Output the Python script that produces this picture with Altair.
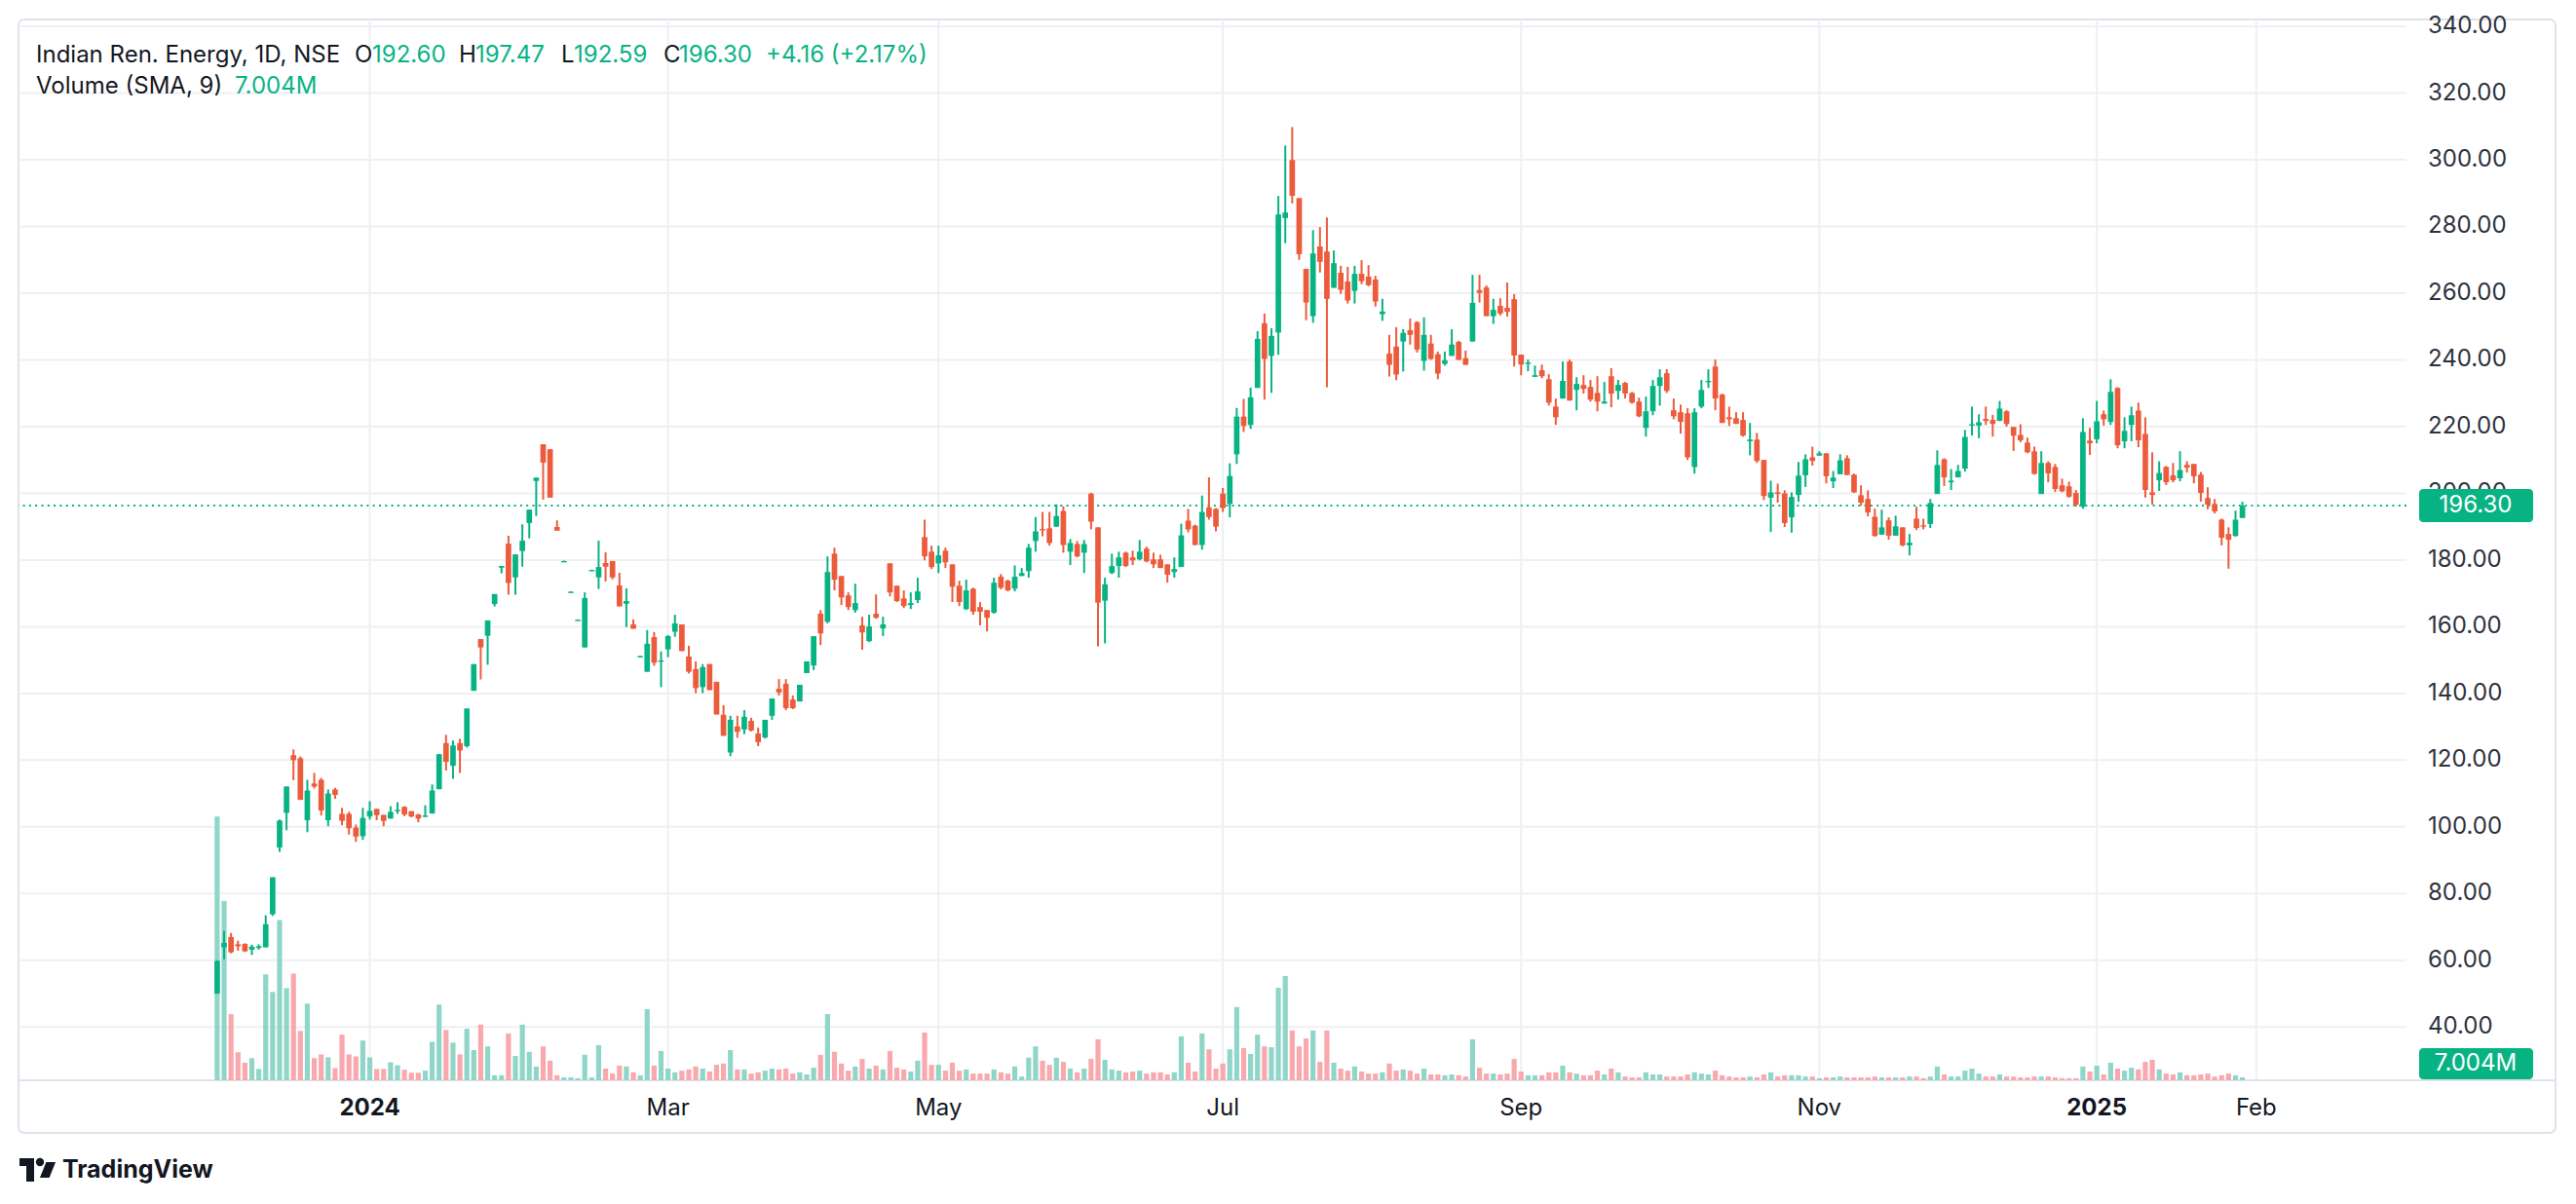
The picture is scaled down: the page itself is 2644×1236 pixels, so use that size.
import altair as alt
import numpy as np
import pandas as pd

# ---------------- data ----------------
OPEN = [
    50.0, 63.9, 67.0, 64.8, 64.9, 63.2, 63.7, 63.9, 73.8, 93.8,
    104.2, 121.5, 120.6, 102.0, 113.0, 114.1, 102.0, 111.2, 103.9, 103.9,
    99.8, 97.2, 103.1, 105.4, 103.6, 102.5, 104.8, 106.0, 104.7, 103.7,
    103.1, 104.0, 111.3, 125.1, 118.3, 125.1, 124.2, 140.8, 156.3, 157.3,
    166.8, 177.7, 184.9, 174.8, 182.7, 191.1, 203.7, 214.7, 213.2, 189.9,
    179.6, 170.4, 162.0, 153.8, 176.9, 174.8, 179.1, 179.7, 172.4, 166.9,
    160.7, 151.1, 146.5, 156.9, 149.5, 153.2, 158.5, 160.7, 151.1, 147.3,
    141.9, 148.8, 143.5, 133.6, 122.3, 130.1, 129.2, 131.8, 128.0, 126.8,
    133.3, 141.4, 142.9, 138.2, 137.6, 146.1, 148.4, 163.9, 161.5, 181.9,
    175.2, 169.4, 165.0, 160.4, 155.7, 163.9, 159.5, 179.0, 172.3, 168.5,
    166.5, 168.0, 186.9, 182.5, 179.0, 182.8, 178.7, 172.3, 165.3, 171.4,
    165.9, 165.0, 164.2, 175.0, 173.8, 171.4, 175.2, 176.7, 185.7, 189.3,
    189.5, 190.0, 194.7, 182.5, 184.8, 182.2, 199.9, 189.8, 167.8, 176.1,
    178.2, 182.2, 180.8, 180.2, 183.4, 180.2, 180.2, 178.7, 176.4, 177.9,
    191.8, 190.3, 184.5, 195.8, 195.3, 199.9, 196.8, 211.7, 223.0, 220.5,
    231.6, 251.0, 241.2, 248.2, 282.5, 299.9, 288.5, 267.3, 253.1, 274.0,
    272.5, 261.6, 266.1, 263.5, 260.7, 265.8, 265.0, 264.1, 253.7, 241.9,
    244.0, 245.5, 248.9, 251.3, 239.7, 244.9, 241.7, 238.8, 241.2, 245.4,
    240.5, 245.5, 260.9, 261.7, 253.1, 256.2, 255.6, 258.2, 241.6, 238.9,
    234.9, 236.9, 234.2, 226.0, 228.4, 239.5, 231.0, 232.5, 231.9, 230.1,
    226.9, 235.1, 230.7, 233.1, 230.1, 227.5, 219.6, 224.6, 232.2, 236.0,
    224.9, 224.3, 224.0, 207.9, 226.0, 233.4, 238.0, 229.6, 222.8, 222.5,
    222.0, 215.6, 216.1, 210.0, 198.7, 200.3, 200.0, 192.8, 199.5, 205.4,
    210.8, 211.3, 212.0, 203.6, 205.7, 210.5, 205.6, 199.4, 198.3, 193.0,
    187.6, 191.9, 187.3, 189.8, 184.4, 192.4, 190.4, 190.8, 199.8, 210.2,
    203.3, 204.8, 207.4, 220.3, 220.3, 222.3, 222.0, 221.7, 224.6, 219.9,
    217.5, 215.2, 212.6, 199.8, 209.1, 207.9, 202.4, 202.1, 200.1, 196.0,
    215.8, 216.2, 223.7, 221.4, 231.6, 215.6, 220.5, 224.8, 217.8, 200.3,
    203.9, 207.9, 205.4, 204.5, 208.5, 208.8, 205.6, 198.6, 196.8, 192.1,
    187.8, 187.2, 192.60,
]
HIGH = [
    60.0, 68.8, 68.2, 65.9, 65.1, 64.7, 64.8, 73.5, 84.9, 102.2,
    112.1, 123.2, 121.1, 114.1, 116.2, 114.7, 111.2, 111.7, 105.7, 104.5,
    100.7, 105.7, 107.7, 105.4, 103.6, 106.2, 107.4, 106.2, 104.7, 103.9,
    106.5, 112.7, 121.8, 127.6, 125.9, 126.4, 135.5, 148.8, 156.3, 161.9,
    169.8, 178.2, 187.3, 181.7, 190.7, 195.1, 204.7, 214.7, 213.2, 191.9,
    179.8, 170.6, 162.2, 170.3, 177.1, 185.8, 182.3, 179.7, 176.2, 171.5,
    162.2, 151.3, 159.0, 158.4, 152.6, 157.5, 163.6, 160.7, 154.3, 149.6,
    148.8, 148.8, 143.5, 136.5, 133.3, 133.3, 135.0, 132.7, 129.8, 132.1,
    138.5, 144.3, 144.3, 139.4, 142.6, 149.6, 157.2, 165.0, 181.1, 183.7,
    175.2, 170.3, 172.9, 163.0, 163.6, 169.7, 163.0, 179.0, 172.3, 170.9,
    170.3, 174.7, 192.1, 184.3, 184.3, 183.7, 178.7, 173.8, 174.1, 171.7,
    167.4, 165.0, 174.7, 175.8, 174.1, 178.4, 177.6, 184.8, 192.9, 194.4,
    194.4, 196.7, 196.1, 186.3, 185.7, 186.0, 200.2, 189.8, 174.7, 181.9,
    182.5, 182.5, 182.8, 186.0, 184.0, 182.2, 181.6, 178.7, 180.8, 190.9,
    195.3, 190.6, 199.3, 204.8, 195.6, 201.6, 209.0, 225.6, 228.3, 231.7,
    248.6, 253.9, 249.5, 289.1, 304.3, 309.8, 288.5, 267.3, 278.9, 279.8,
    282.7, 272.8, 268.2, 267.9, 268.2, 269.9, 268.4, 265.2, 258.3, 247.5,
    249.8, 249.2, 252.4, 251.6, 252.7, 247.5, 242.5, 242.5, 249.2, 245.7,
    242.8, 265.5, 265.5, 262.3, 258.3, 258.5, 263.2, 259.7, 241.6, 240.1,
    238.3, 238.6, 235.7, 228.4, 239.5, 240.1, 234.8, 235.4, 234.0, 235.1,
    233.4, 237.5, 234.0, 233.4, 230.4, 228.7, 229.0, 234.0, 237.2, 237.2,
    228.4, 226.6, 225.5, 225.5, 234.0, 237.2, 240.1, 229.9, 226.0, 224.3,
    224.3, 221.1, 218.1, 210.0, 203.8, 202.9, 200.9, 200.3, 209.4, 211.7,
    214.0, 212.6, 212.0, 206.7, 211.7, 211.4, 205.9, 202.4, 200.9, 195.4,
    195.1, 192.8, 193.3, 189.8, 187.8, 196.0, 192.4, 198.3, 212.9, 210.5,
    207.3, 208.5, 219.0, 226.0, 223.7, 226.0, 223.5, 227.7, 224.9, 219.9,
    220.7, 216.7, 214.0, 212.6, 209.6, 208.8, 204.4, 203.5, 201.0, 222.5,
    219.6, 227.7, 224.8, 234.2, 231.8, 222.8, 226.0, 227.2, 222.8, 212.3,
    209.6, 208.2, 209.1, 212.6, 209.6, 208.8, 206.4, 201.8, 198.3, 192.4,
    189.8, 194.8, 197.47,
]
LOW = [
    50.0, 60.3, 62.1, 62.9, 62.5, 61.6, 63.2, 63.9, 73.3, 92.5,
    99.0, 114.0, 108.1, 98.4, 111.5, 103.4, 100.2, 108.4, 100.5, 97.7,
    95.5, 96.1, 102.2, 102.0, 100.2, 102.5, 103.9, 103.2, 102.9, 101.4,
    102.9, 104.0, 111.3, 116.9, 114.4, 116.2, 123.8, 140.8, 144.2, 148.6,
    166.1, 176.0, 169.6, 169.6, 178.0, 186.5, 193.2, 198.1, 198.7, 188.8,
    179.5, 170.3, 161.9, 153.8, 176.8, 171.3, 173.6, 174.2, 166.1, 159.9,
    159.4, 151.0, 146.5, 148.3, 141.9, 150.9, 157.0, 152.7, 146.0, 140.1,
    140.1, 141.0, 133.7, 127.3, 121.2, 126.7, 127.8, 128.6, 124.2, 126.5,
    132.1, 139.4, 135.0, 135.3, 137.6, 146.1, 147.0, 154.5, 161.0, 170.9,
    166.5, 165.0, 164.2, 153.1, 155.4, 162.4, 157.2, 169.1, 167.4, 165.6,
    165.3, 167.1, 179.9, 177.3, 176.1, 177.6, 167.4, 166.2, 165.0, 163.6,
    160.4, 158.6, 163.9, 171.2, 170.6, 170.6, 175.2, 174.7, 182.5, 187.1,
    184.3, 190.0, 182.2, 178.5, 180.8, 176.1, 189.2, 154.1, 155.0, 175.8,
    174.7, 177.9, 178.5, 179.9, 179.3, 177.6, 177.6, 173.2, 174.7, 177.9,
    188.3, 184.5, 183.1, 192.1, 188.6, 194.4, 192.8, 208.8, 218.4, 219.3,
    231.6, 228.1, 230.1, 241.5, 275.0, 286.9, 270.0, 251.9, 251.1, 266.2,
    231.8, 261.6, 259.8, 256.9, 256.9, 262.7, 262.1, 256.0, 251.7, 235.0,
    233.9, 236.5, 244.6, 242.2, 236.8, 240.0, 234.2, 238.3, 241.2, 240.0,
    238.5, 245.5, 257.2, 253.1, 250.8, 253.3, 253.0, 238.0, 235.4, 236.6,
    234.9, 234.5, 226.3, 220.5, 228.4, 227.8, 224.9, 229.9, 227.5, 224.6,
    226.9, 225.8, 228.1, 228.4, 226.9, 222.8, 217.0, 223.4, 226.3, 230.1,
    222.2, 217.9, 210.0, 205.9, 225.5, 231.6, 224.9, 221.1, 220.2, 220.8,
    217.0, 211.4, 209.1, 198.0, 188.4, 197.2, 189.9, 188.2, 197.5, 201.9,
    208.3, 211.3, 203.0, 201.6, 205.7, 205.4, 200.1, 196.3, 193.1, 187.0,
    187.6, 186.1, 187.3, 184.1, 181.4, 189.0, 189.2, 189.6, 199.8, 202.2,
    201.0, 204.8, 206.5, 217.3, 216.5, 220.5, 217.0, 221.7, 220.0, 212.7,
    215.3, 212.0, 205.6, 199.8, 203.3, 200.4, 200.3, 198.7, 196.0, 195.4,
    211.5, 215.0, 220.3, 220.5, 213.5, 213.5, 215.6, 213.8, 198.7, 196.6,
    200.7, 202.5, 203.3, 203.6, 206.2, 203.0, 197.5, 195.2, 194.0, 184.4,
    177.4, 187.0, 192.59,
]
CLOSE = [
    59.8, 65.2, 62.4, 64.2, 62.7, 64.1, 64.2, 70.8, 84.9, 101.9,
    112.1, 120.0, 108.1, 110.9, 112.1, 104.9, 110.0, 109.6, 101.8, 99.6,
    97.1, 102.7, 104.8, 103.5, 101.8, 104.5, 105.1, 103.7, 103.1, 102.5,
    103.4, 110.9, 121.8, 119.5, 124.4, 122.9, 135.5, 148.8, 153.8, 161.9,
    169.8, 178.2, 173.1, 181.7, 185.8, 195.1, 204.7, 209.2, 198.7, 188.8,
    179.7, 170.5, 162.1, 168.6, 177.0, 177.9, 178.0, 174.8, 166.1, 167.7,
    159.4, 151.2, 154.9, 149.2, 149.9, 157.2, 161.0, 152.7, 146.5, 141.6,
    147.9, 141.0, 133.7, 127.3, 132.1, 128.5, 133.0, 128.9, 125.4, 132.1,
    138.5, 140.3, 135.6, 135.6, 142.6, 149.6, 157.2, 158.0, 176.4, 174.1,
    168.8, 165.9, 167.1, 158.3, 160.1, 162.7, 160.7, 170.3, 167.7, 166.2,
    167.1, 170.6, 181.1, 177.9, 181.4, 179.3, 172.0, 167.4, 170.9, 164.5,
    164.5, 162.7, 173.2, 171.7, 170.9, 175.0, 176.1, 183.7, 188.6, 188.9,
    185.1, 193.2, 184.5, 185.1, 181.1, 184.8, 191.5, 167.2, 172.7, 178.2,
    180.8, 178.2, 179.9, 182.5, 179.6, 178.7, 177.6, 175.6, 177.3, 187.4,
    189.2, 184.5, 194.4, 192.9, 190.0, 195.6, 205.2, 223.0, 220.2, 228.8,
    246.3, 240.3, 247.2, 283.6, 284.2, 289.2, 271.7, 257.2, 271.9, 269.4,
    258.3, 269.0, 261.0, 257.8, 265.8, 263.6, 262.4, 257.5, 254.5, 238.5,
    235.6, 248.1, 247.5, 243.1, 247.5, 240.3, 235.9, 239.9, 244.6, 240.0,
    238.5, 257.1, 260.1, 253.1, 255.0, 253.9, 254.4, 241.3, 238.6, 239.2,
    235.4, 235.1, 227.2, 222.8, 233.7, 227.8, 232.8, 231.3, 228.1, 227.5,
    227.5, 229.9, 232.5, 229.9, 227.2, 223.1, 224.6, 232.2, 234.8, 230.7,
    223.1, 221.4, 210.8, 224.3, 231.0, 233.7, 228.4, 221.1, 222.2, 220.8,
    217.3, 216.1, 209.7, 199.2, 200.3, 199.8, 191.1, 198.9, 205.3, 210.2,
    209.7, 212.0, 205.1, 204.7, 209.9, 205.5, 200.3, 197.2, 194.3, 187.2,
    189.8, 187.3, 190.1, 184.4, 185.2, 189.6, 190.1, 197.1, 208.5, 204.8,
    203.8, 206.7, 216.9, 220.7, 221.3, 221.7, 220.8, 225.4, 220.8, 217.3,
    215.9, 212.3, 205.8, 209.1, 206.0, 201.3, 200.6, 199.0, 196.6, 218.4,
    215.0, 221.6, 222.2, 230.4, 214.4, 218.7, 223.4, 215.9, 201.0, 199.5,
    206.1, 203.3, 203.9, 207.0, 207.7, 205.1, 200.1, 196.6, 194.6, 186.7,
    186.1, 192.1, 196.30,
]
# volume in millions of shares
VOLUME = [
    630, 428, 158, 67, 42, 53, 27, 253, 211, 383,
    220, 255, 118, 183, 53, 62, 55, 29, 109, 62,
    57, 95, 55, 27, 27, 43, 36, 25, 18, 18,
    23, 92, 181, 120, 90, 62, 123, 72, 133, 81,
    12, 12, 112, 58, 133, 68, 33, 81, 47, 12,
    7, 7, 5, 61, 7, 84, 28, 16, 35, 33,
    19, 12, 170, 35, 70, 28, 19, 23, 26, 33,
    28, 21, 37, 40, 72, 26, 26, 16, 19, 23,
    28, 26, 28, 16, 19, 14, 30, 61, 158, 68,
    40, 23, 33, 51, 28, 35, 26, 70, 30, 26,
    21, 47, 114, 37, 37, 23, 42, 23, 26, 16,
    16, 16, 26, 19, 16, 33, 9, 54, 81, 47,
    37, 54, 44, 28, 19, 28, 51, 98, 49, 26,
    23, 19, 21, 23, 16, 19, 19, 14, 19, 105,
    42, 21, 112, 74, 28, 40, 74, 175, 77, 63,
    109, 81, 79, 221, 249, 119, 81, 100, 119, 44,
    119, 42, 28, 23, 33, 21, 16, 16, 19, 40,
    23, 26, 23, 16, 28, 14, 14, 12, 14, 12,
    9, 98, 30, 16, 16, 14, 16, 51, 21, 12,
    12, 12, 19, 19, 35, 19, 16, 12, 12, 23,
    14, 28, 19, 9, 7, 7, 19, 14, 14, 9,
    9, 9, 14, 19, 16, 14, 23, 12, 9, 7,
    7, 9, 7, 14, 19, 9, 12, 12, 12, 9,
    9, 5, 7, 7, 9, 7, 7, 7, 7, 9,
    7, 7, 7, 7, 9, 9, 5, 9, 33, 14,
    9, 9, 23, 28, 16, 9, 9, 14, 9, 9,
    7, 7, 9, 9, 9, 7, 5, 5, 5, 33,
    21, 35, 14, 42, 28, 23, 30, 26, 44, 49,
    26, 16, 14, 19, 12, 12, 14, 16, 9, 12,
    16, 12, 7.004,
]

# time-axis ticks (bar index of the first session of each labelled month)
TICK_IDX = [22, 65, 104, 145, 188, 231, 271, 294]
TICK_LBL = ["2024", "Mar", "May", "Jul", "Sep", "Nov", "2025", "Feb"]
BOLD_LBL = ["2024", "2025"]
Y_TICKS = list(range(40, 341, 20))

LAST_PRICE = 196.30
LAST_VOL = "7.004M"
HEADER = [("Indian Ren. Energy, 1D, NSE", "dark"),
          ("O", "dark"), ("192.60", "green"),
          ("H", "dark"), ("197.47", "green"),
          ("L", "dark"), ("192.59", "green"),
          ("C", "dark"), ("196.30", "green"),
          ("+4.16 (+2.17%)", "green")]
HEADER2 = [("Volume (SMA, 9)", "dark"), (LAST_VOL, "green")]

# ---------------- style ----------------
UP, DOWN = "#08b383", "#ec5b3c"
VUP, VDOWN = "#8fd6c9", "#f9a8ad"
TEXT = "#131722"
AXTEXT = "#2e323d"
GRID = "#eff0f3"
BORDER = "#e0e3eb"
FONT = "Inter"
FS = 24
W, H = 2451, 1089

df = pd.DataFrame({"i": np.arange(len(OPEN)), "o": OPEN, "h": HIGH,
                   "l": LOW, "c": CLOSE, "v": VOLUME})
up = df["c"] >= df["o"]
df["ccol"] = np.where(up, UP, DOWN)
df["vcol"] = np.where(up, VUP, VDOWN)

ticks_df = pd.DataFrame({"t": TICK_IDX, "lbl": TICK_LBL,
                         "bold": [t in BOLD_LBL for t in TICK_LBL]})
ygrid_df = pd.DataFrame({"p": Y_TICKS})

xscale = alt.Scale(domain=[-27.94, 314.95], nice=False, zero=False)
pscale = alt.Scale(domain=[24.03, 342.05], nice=False, zero=False)
vscale = alt.Scale(domain=[0, 2534], nice=False, zero=False)

X = dict(scale=xscale, axis=None)
one = pd.DataFrame({"k": [0]})
base = alt.Chart(df)

# grid
xgrid = alt.Chart(ticks_df).mark_rule(color=GRID, strokeWidth=2).encode(
    x=alt.X("t:Q", **X))
ygrid = alt.Chart(ygrid_df).mark_rule(color=GRID, strokeWidth=2).encode(
    y=alt.Y("p:Q", scale=pscale, axis=None))

vol = base.mark_bar(size=5.2).encode(
    x=alt.X("i:Q", **X),
    y=alt.Y("v:Q", scale=vscale, axis=None),
    color=alt.Color("vcol:N", scale=None),
)
pline = alt.Chart(one).mark_rule(color=UP, strokeWidth=2, strokeDash=[2, 4.3]).encode(
    y=alt.YDatum(LAST_PRICE, scale=pscale, axis=None))
wick = base.mark_rule(strokeWidth=2).encode(
    x=alt.X("i:Q", **X),
    y=alt.Y("l:Q", scale=pscale, axis=None),
    y2="h:Q",
    color=alt.Color("ccol:N", scale=None),
)
body = base.transform_calculate(
    bt="max(datum.o, datum.c)",
    bb="max(datum.o, datum.c) - max(abs(datum.c - datum.o), 0.4)",
).mark_bar(size=5.7).encode(
    x=alt.X("i:Q", **X),
    y=alt.Y("bt:Q", scale=pscale, axis=None),
    y2="bb:Q",
    color=alt.Color("ccol:N", scale=None),
)

# price axis labels (right)
ylab = alt.Chart(ygrid_df).mark_text(align="left", baseline="middle", font=FONT,
                                     fontSize=FS, color=AXTEXT).encode(
    x=alt.value(W + 22),
    y=alt.Y("p:Q", scale=pscale, axis=None),
    text=alt.Text("p:Q", format=".2f"))

# time axis labels (bottom)
def xlabels(bold):
    return alt.Chart(ticks_df).transform_filter(
        "datum.bold" if bold else "!datum.bold"
    ).mark_text(align="center", baseline="middle", font=FONT, fontSize=FS, color=TEXT,
                fontWeight="bold" if bold else "normal").encode(
        x=alt.X("t:Q", **X), y=alt.value(H + 29), text="lbl:N")

pbadge = alt.Chart(one).mark_rect(color=UP, cornerRadius=4).encode(
    x=alt.value(W + 13), x2=alt.value(W + 130),
    y=alt.YDatum(LAST_PRICE + 4.96, scale=pscale, axis=None),
    y2=alt.Y2Datum(LAST_PRICE - 4.96))
ptext = alt.Chart(one).mark_text(text=f"{LAST_PRICE:.2f}", color="white", font=FONT,
                                 fontSize=FS, align="center", baseline="middle").encode(
    x=alt.value(W + 71), y=alt.YDatum(LAST_PRICE, scale=pscale, axis=None))

vbadge = alt.Chart(one).mark_rect(color=UP, cornerRadius=4).encode(
    x=alt.value(W + 13), x2=alt.value(W + 130), y=alt.value(H - 33), y2=alt.value(H - 1))
vtext = alt.Chart(one).mark_text(text=LAST_VOL, color="white", font=FONT, fontSize=FS,
                                 align="center", baseline="middle").encode(
    x=alt.value(W + 71), y=alt.value(H - 17))

frame = alt.Chart(one).mark_rect(fillOpacity=0, stroke=BORDER, strokeWidth=2, cornerRadius=6).encode(
    x=alt.value(0), x2=alt.value(2604), y=alt.value(0), y2=alt.value(1143))
tline = alt.Chart(one).mark_rule(color=BORDER, strokeWidth=2).encode(
    x=alt.value(0), x2=alt.value(2604), y=alt.value(H))

COLS = {"dark": TEXT, "green": UP}
X1 = [18, 345, 363, 452, 469, 557, 570, 662, 678, 767]
X2 = [18, 222]


def txt(s, x, y, col, size=FS, weight="normal"):
    return alt.Chart(one).mark_text(text=s, color=col, font=FONT, fontSize=size, fontWeight=weight,
                                    align="left", baseline="middle").encode(
        x=alt.value(x), y=alt.value(y))


heads = [txt(s, x, 37, COLS[c]) for (s, c), x in zip(HEADER, X1)]
heads += [txt(s, x, 69, COLS[c]) for (s, c), x in zip(HEADER2, X2)]

# TradingView logo
logo_bar = alt.Chart(one).mark_rect(color=TEXT).encode(
    x=alt.value(1), x2=alt.value(16), y=alt.value(1169), y2=alt.value(1177))
logo_stem = alt.Chart(one).mark_rect(color=TEXT).encode(
    x=alt.value(8), x2=alt.value(16), y=alt.value(1169), y2=alt.value(1193))
logo_dot = alt.Chart(one).mark_point(filled=True, color=TEXT, opacity=1, size=70).encode(
    x=alt.value(22), y=alt.value(1173))
logo_tri = alt.Chart(one).mark_point(filled=True, color=TEXT, opacity=1, size=260,
                                     shape="M-0.2,-1L1,-1L0.2,1L-1,1Z").encode(
    x=alt.value(30), y=alt.value(1181))
logo_txt = txt("TradingView", 45, 1181, TEXT, size=25, weight="bold")

chart = alt.layer(
    frame, xgrid, ygrid, tline, vol, pline, wick, body, ylab,
    pbadge, ptext, vbadge, vtext, xlabels(False), xlabels(True), *heads,
    logo_bar, logo_stem, logo_dot, logo_tri, logo_txt,
).resolve_scale(
    y="independent"
).properties(
    width=W, height=H,
    padding={"left": 11, "top": 12, "right": 160, "bottom": 110},
    autosize=alt.AutoSizeParams(type="none"),
    background="white",
).configure_view(strokeWidth=0)

chart.save("out.html", embed_options={"renderer": "svg", "actions": False})
